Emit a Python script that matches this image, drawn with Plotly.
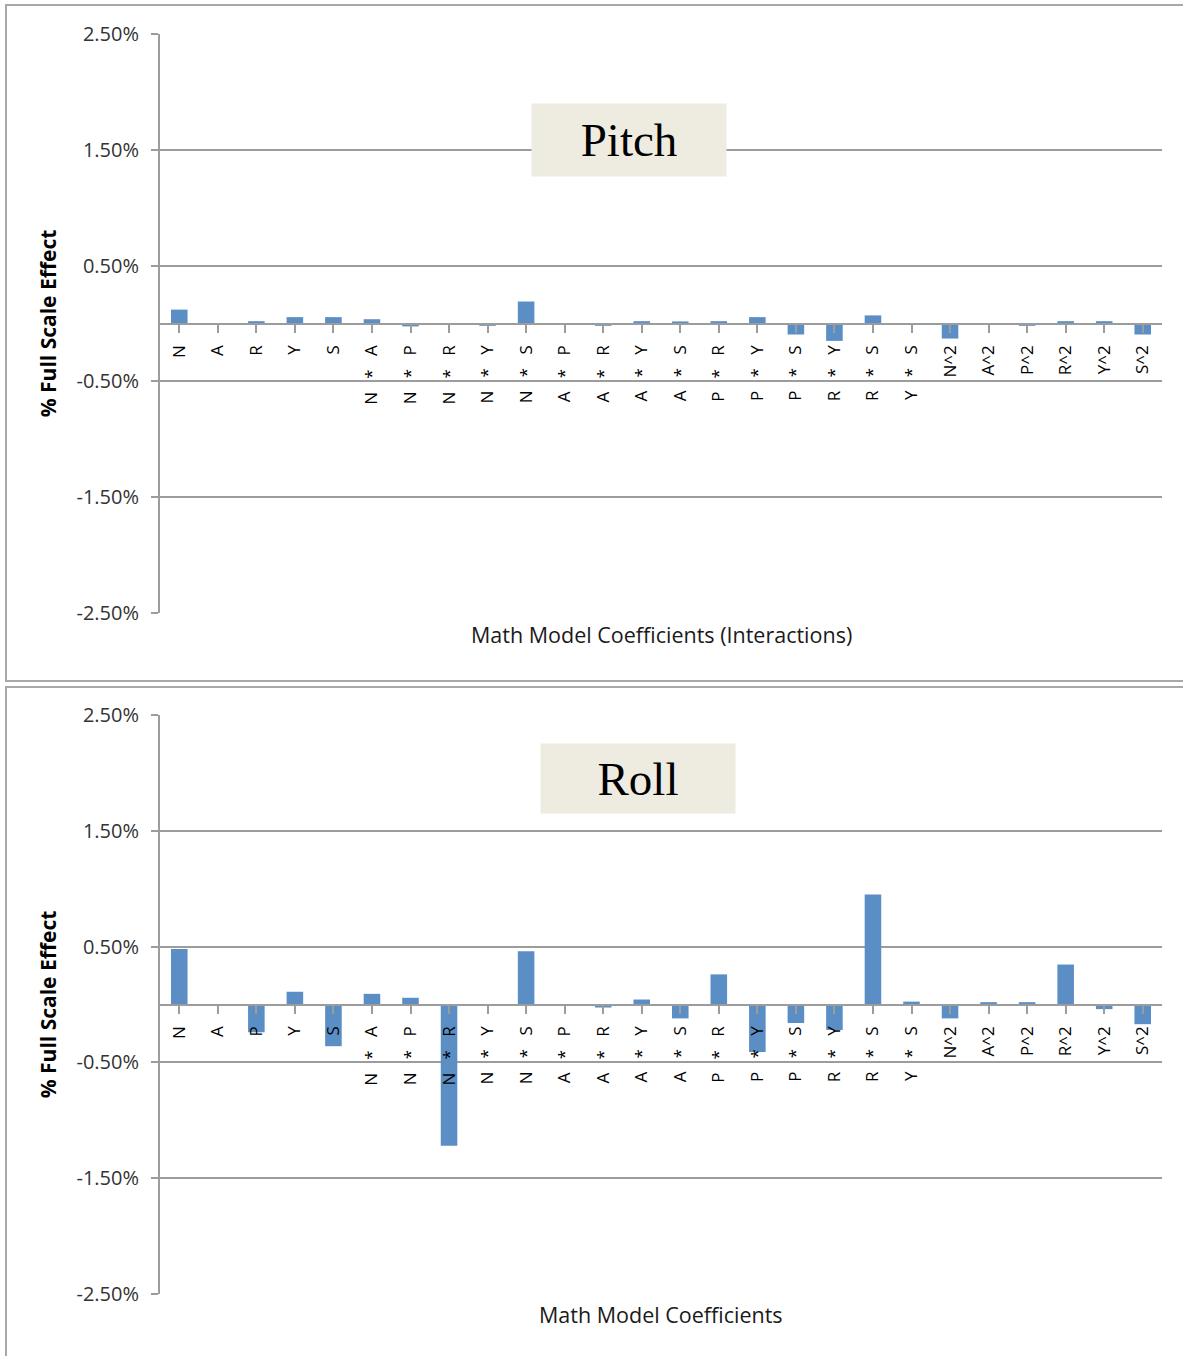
import plotly.graph_objects as go

# ---------------- data ----------------
pitch_labels = ["N", "A", "R", "Y", "S",
                "N * A", "N * P", "N * R", "N * Y", "N * S",
                "A * P", "A * R", "A * Y", "A * S",
                "P * R", "P * Y", "P * S", "R * Y", "R * S", "Y * S",
                "N^2", "A^2", "P^2", "R^2", "Y^2", "S^2"]
roll_labels = ["N", "A", "P", "Y", "S",
               "N * A", "N * P", "N * R", "N * Y", "N * S",
               "A * P", "A * R", "A * Y", "A * S",
               "P * R", "P * Y", "P * S", "R * Y", "R * S", "Y * S",
               "N^2", "A^2", "P^2", "R^2", "Y^2", "S^2"]

# values in % of full scale
pitch_values = [0.12, 0.0, 0.02, 0.055, 0.055,
                0.037, -0.025, 0.0, -0.02, 0.19,
                0.0, -0.02, 0.02, 0.018,
                0.02, 0.055, -0.095, -0.15, 0.07, 0.0,
                -0.13, 0.0, -0.02, 0.02, 0.02, -0.095]
roll_values = [0.48, 0.0, -0.24, 0.11, -0.36,
               0.092, 0.058, -1.22, 0.0, 0.46,
               0.0, -0.026, 0.043, -0.12,
               0.26, -0.41, -0.16, -0.22, 0.95, 0.025,
               -0.12, 0.02, 0.02, 0.345, -0.04, -0.17]

y_tick_values = [-2.5, -1.5, -0.5, 0.5, 1.5, 2.5]
y_tick_text = ["-2.50%", "-1.50%", "-0.50%", "0.50%", "1.50%", "2.50%"]

chart_titles = ["Pitch", "Roll"]
x_titles = ["Math Model Coefficients (Interactions)", "Math Model Coefficients"]
y_title = "% Full Scale Effect"

# ---------------- layout constants ----------------
W, H = 1183, 1356
BAR = "#5B8EC5"
GRID = "#9c9c9c"
FRAME = "#a8a8a8"
TXT = "#262626"


def fx(px):
    return px / W


def fy(py):
    return 1 - py / H


def fmt_label(s):
    return s.replace(" ", "\u00a0\u00a0\u00a0")


x_dom = [fx(160), fx(1162)]
plots = [
    dict(top=34, bottom=613),
    dict(top=715, bottom=1294),
]

fig = go.Figure()

fig.add_trace(go.Bar(x=list(range(len(pitch_labels))), y=pitch_values,
                     marker=dict(color=BAR, line=dict(width=0)),
                     xaxis="x", yaxis="y", showlegend=False))
fig.add_trace(go.Bar(x=list(range(len(roll_labels))), y=roll_values,
                     marker=dict(color=BAR, line=dict(width=0)),
                     xaxis="x2", yaxis="y2", showlegend=False))

layout = dict(
    template="none",
    width=W, height=H,
    margin=dict(l=0, r=0, t=0, b=0, pad=0, autoexpand=False),
    paper_bgcolor="white", plot_bgcolor="white",
    bargap=0.57,
    font=dict(family="Open Sans", color=TXT),
    shapes=[], annotations=[],
)

for i, (p, labels) in enumerate(zip(plots, [pitch_labels, roll_labels])):
    sfx = "" if i == 0 else str(i + 1)
    ydom = [fy(p["bottom"]), fy(p["top"])]
    zero_pos = (ydom[0] + ydom[1]) / 2
    layout["xaxis" + sfx] = dict(
        domain=x_dom, anchor="free", position=zero_pos,
        automargin=False,
        range=[-0.5, len(labels) - 0.5],
        tickmode="array", tickvals=list(range(len(labels))),
        ticktext=[fmt_label(s) for s in labels],
        tickangle=-90, tickson="boundaries",
        ticks="outside", ticklen=8, tickwidth=2, tickcolor=GRID,
        showline=True, linecolor=GRID, linewidth=2,
        showgrid=False, zeroline=False,
        tickfont=dict(family="Open Sans", size=17, color="#000000"),
        ticklabelstandoff=6,
        fixedrange=True,
    )
    layout["yaxis" + sfx] = dict(
        domain=ydom, anchor="x" + sfx,
        automargin=False,
        range=[-2.5, 2.5],
        tickmode="array", tickvals=y_tick_values, ticktext=y_tick_text,
        ticks="outside", ticklen=7, tickwidth=2, tickcolor=GRID,
        showline=True, linecolor=GRID, linewidth=2,
        showgrid=True, gridcolor=GRID, gridwidth=2,
        zeroline=False,
        tickfont=dict(family="Open Sans", size=20, color="#333333"),
        ticklabelstandoff=8,
        title=dict(text=y_title, standoff=14,
                   font=dict(family="Open Sans", size=21, color="#000000",
                             weight="bold")),
        fixedrange=True,
    )

# frames
layout["shapes"].append(dict(type="rect", xref="paper", yref="paper",
                             x0=fx(6), x1=fx(1200), y0=fy(681), y1=fy(5),
                             line=dict(color=FRAME, width=2), layer="below"))
layout["shapes"].append(dict(type="rect", xref="paper", yref="paper",
                             x0=fx(6), x1=fx(1200), y0=fy(1380), y1=fy(687),
                             line=dict(color=FRAME, width=2), layer="below"))

# chart title boxes
title_boxes = [dict(cx=629, cy=140, w=194, h=72), dict(cx=638, cy=778.5, w=194, h=69)]
for t, b in zip(chart_titles, title_boxes):
    layout["annotations"].append(dict(
        text=t, xref="paper", yref="paper", x=fx(b["cx"]), y=fy(b["cy"]),
        xanchor="center", yanchor="middle", showarrow=False,
        width=b["w"], height=b["h"], bgcolor="#EEECE1", borderpad=0,
        font=dict(family="Liberation Serif", size=47, color="#000000"),
    ))

# x axis titles
x_title_y = [634, 1314]
for t, yy in zip(x_titles, x_title_y):
    layout["annotations"].append(dict(
        text=t, xref="paper", yref="paper", x=fx(661), y=fy(yy),
        xanchor="center", yanchor="middle", showarrow=False,
        font=dict(family="Open Sans", size=21.5, color="#1a1a1a"),
    ))

fig.update_layout(**layout)
fig.write_html("out.html",
               config={"displayModeBar": False},
               post_script="document.body.style.margin='0';document.body.style.overflow='hidden';")
